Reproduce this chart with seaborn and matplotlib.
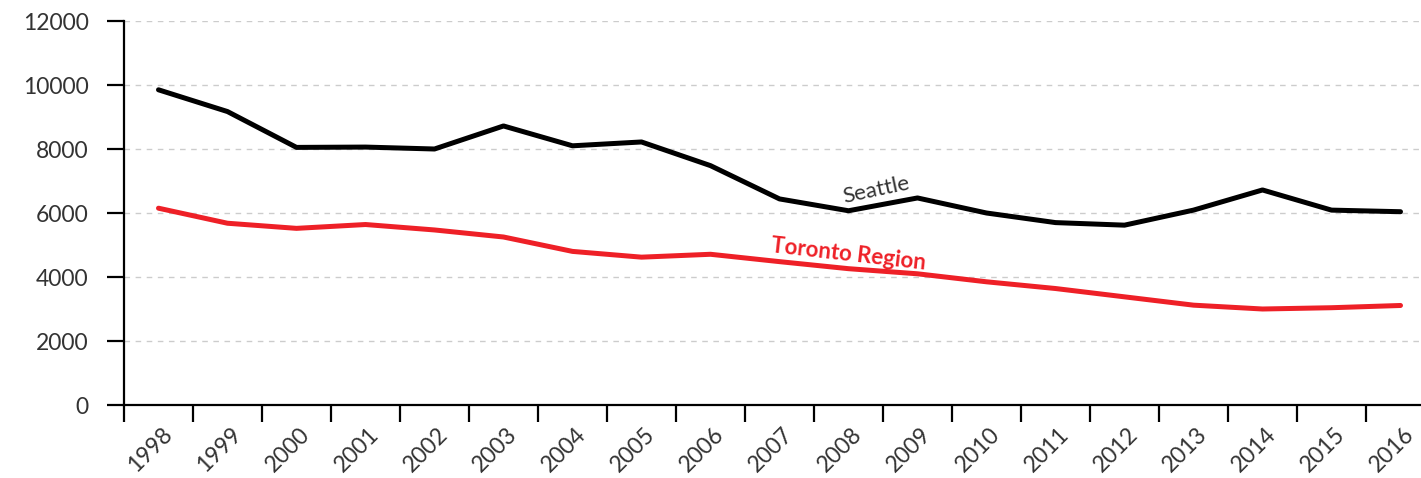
import pandas as pd
import numpy as np
import seaborn as sns
import matplotlib
matplotlib.use("Agg")
from matplotlib import pyplot as plt
from matplotlib import transforms

# data
years = list(range(1998, 2017))
seattle = [9850, 9170, 8050, 8060, 8000, 8720, 8100, 8220, 7480, 6440,
           6070, 6470, 6000, 5700, 5620, 6090, 6720, 6090, 6040]
toronto = [6150, 5680, 5520, 5640, 5470, 5250, 4800, 4620, 4710, 4480,
           4260, 4100, 3850, 3640, 3380, 3120, 3000, 3040, 3110]
y_ticks = [0, 2000, 4000, 6000, 8000, 10000, 12000]

df = pd.DataFrame({
    "year": years * 2,
    "value": seattle + toronto,
    "city": ["Seattle"] * len(years) + ["Toronto Region"] * len(years),
})

sns.set_style("white")
plt.rcParams["font.family"] = ["Lato", "DejaVu Sans"]

red = "#ee2027"
fig = plt.figure(figsize=(14.21, 4.78), dpi=100)
ax = fig.add_axes([124 / 1421, 1 - 405 / 478, 1311 / 1421, (405 - 21) / 478])

sns.lineplot(data=df, x="year", y="value", hue="city",
             palette={"Seattle": "black", "Toronto Region": red},
             linewidth=3.6, legend=False, ax=ax)

ax.set_xlim(1997.5, 2016.5)
ax.set_ylim(0, 12000)
ax.set_xlabel("")
ax.set_ylabel("")

# dashed grid
ax.set_yticks(y_ticks)
ax.set_yticklabels([str(v) for v in y_ticks])
for v in y_ticks[1:]:
    ax.axhline(v, color="#cccccc", linestyle=(0, (4, 4)), linewidth=1, zorder=0)

# boundary ticks (marks only) and centred year labels
ax.set_xticks(np.arange(1997.5, 2017.0, 1.0))
ax.set_xticklabels([])
ax.set_xticks(years, minor=True)
ax.set_xticklabels([str(y) for y in years], minor=True, rotation=45,
                   ha="right", va="center", rotation_mode="anchor")
ax.tick_params(axis="x", which="major", bottom=True, length=12.5, width=1.6,
               color="black")
ax.tick_params(axis="x", which="minor", bottom=True, length=0, pad=19,
               labelsize=16.5, labelcolor="#333333")
ax.tick_params(axis="y", left=True, length=12.5, width=1.6, color="black",
               pad=13, labelsize=16.5, labelcolor="#333333")
shift = transforms.ScaledTranslation(10 / 100, 0, fig.dpi_scale_trans)
for lab in ax.get_xticklabels(minor=True):
    lab.set_transform(lab.get_transform() + shift)

for side in ["top", "right"]:
    ax.spines[side].set_visible(False)
for side in ["left", "bottom"]:
    ax.spines[side].set_linewidth(1.6)
    ax.spines[side].set_color("black")

ax.text(2008.4, 6720, "Seattle", color="#333333", fontsize=16,
        rotation=12, ha="center", va="center")
ax.text(2008.0, 4700, "Toronto Region", color=red, fontsize=16,
        fontweight="bold", rotation=-6.5, ha="center", va="center")

fig.savefig("out.png", dpi=100)
